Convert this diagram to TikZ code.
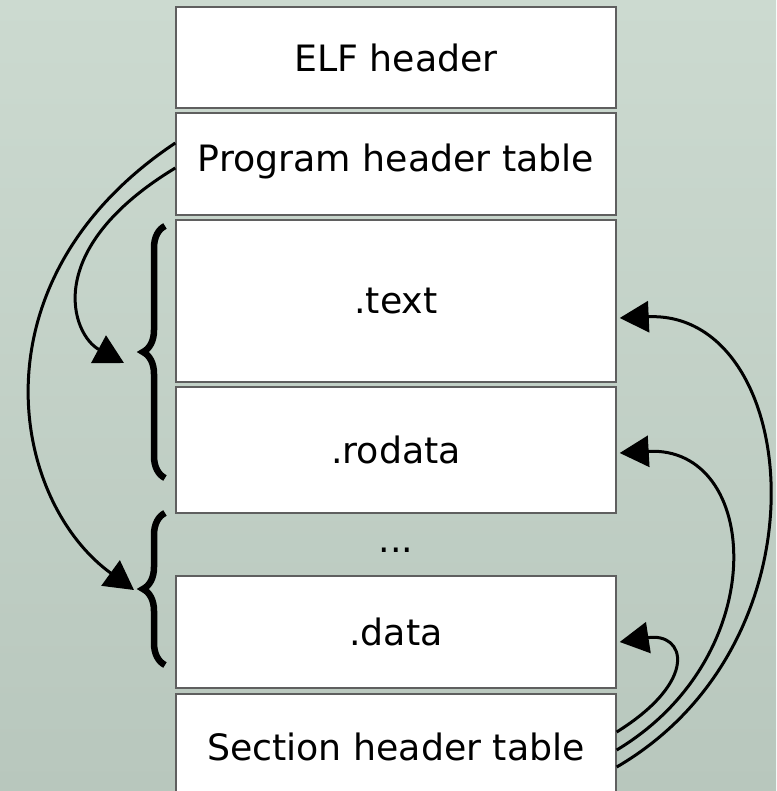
\documentclass[tikz,border=0pt]{standalone}
\usepackage{fontspec}
\setmainfont{DejaVu Sans}
\usetikzlibrary{arrows.meta,decorations.pathreplacing}
\definecolor{board}{RGB}{184,199,189}
\definecolor{boardlight}{RGB}{204,218,208}
\definecolor{edge}{RGB}{95,95,95}
\tikzset{
  segbox/.style={draw=edge, line width=1.4pt, fill=white, minimum width=440pt,
    inner sep=0pt, font=\fontsize{36.3}{42}\selectfont},
  link/.style={line width=3pt, -{Triangle[length=29pt,width=31pt]}},
  grp/.style={line width=6.5pt, decorate, decoration={brace, amplitude=22pt}},
}
\begin{document}
\begin{tikzpicture}[x=1pt,y=-1pt]
  % canvas
  \useasboundingbox (0,0) rectangle (776,791);
  \clip (0,0) rectangle (776,791);
  \shade[top color=boardlight, bottom color=board] (0,0) rectangle (776,791);

  % file layout, top to bottom
  \node[segbox, minimum height=101pt] (elf)    at (396,57.5) {ELF header};
  \node[segbox, minimum height=102pt] (phdr)   at (396,164)  {\raisebox{12pt}{Program header table}};
  \node[segbox, minimum height=162pt] (text)   at (396,301)  {.text};
  \node[segbox, minimum height=126pt] (rodata) at (396,450)  {.rodata};
  \node[anchor=base, font=\fontsize{36.3}{42}\selectfont] (dots) at (396,552) {...};
  \node[segbox, minimum height=112pt] (data)   at (396,632)  {.data};
  \node[segbox, minimum height=106pt] (shdr)   at (396,747)  {Section header table};

  % segment groupings
  \draw[grp] (165,478) -- (165,226);
  \draw[grp] (165,665) -- (165,513);

  % program headers point at the segments
  \coordinate (seg1) at (124,363);
  \coordinate (seg2) at (134,590);
  \draw[link] ([yshift=-4pt]phdr.west) .. controls (40,250) and (72,335) .. (seg1);
  \draw[link] ([yshift=21pt]phdr.west) .. controls (-30,280) and (10,500) .. (seg2);

  % section headers point at the sections
  \draw[link] ([yshift=15pt]shdr.east) .. controls (700,680) and (685,632) .. ([xshift=3pt,yshift=-10pt]data.east);
  \draw[link] ([yshift=-3pt]shdr.east) .. controls (775,655) and (760,445) .. ([xshift=3pt,yshift=-3pt]rodata.east);
  \draw[link] ([yshift=-20pt]shdr.east) .. controls (835,640) and (800,310) .. ([xshift=3pt,yshift=-17pt]text.east);
\end{tikzpicture}
\end{document}
